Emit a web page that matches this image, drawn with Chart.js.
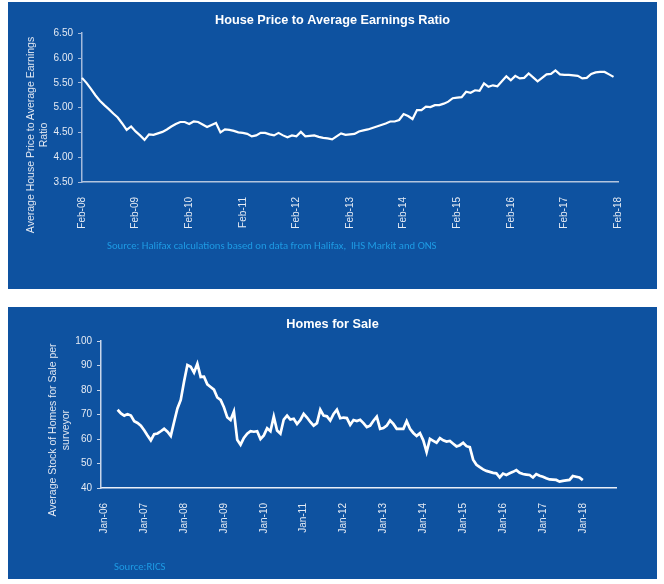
<!DOCTYPE html>
<html>
<head>
<meta charset="utf-8">
<script src="https://cdn.jsdelivr.net/npm/chart.js@4"></script>
<style>
  html, body { margin: 0; padding: 0; background: #fff; }
  body { width: 664px; height: 584px; position: relative; overflow: hidden; font-family: "Liberation Sans", Arial, sans-serif; }
  .panel { position: absolute; left: 8px; width: 649px; background: #0E52A0; }
  #panelTop { top: 2px; height: 287px; }
  #panelBottom { top: 307px; height: 272px; }
  .panel canvas { position: absolute; left: 0; top: 0; }
  .ytitle { position: absolute; color: #dfe6f1; font-size: 10.5px; line-height: 13px; text-align: center; white-space: nowrap; transform: rotate(-90deg); }
  .source { position: absolute; color: #1E9BE4; font-size: 10.7px; white-space: pre; font-family: Carlito, "Open Sans", "Liberation Sans", sans-serif; }
</style>
</head>
<body>
<div class="panel" id="panelTop">
  <canvas id="ratioChart"></canvas>
  <div class="ytitle" style="left:-81px; top:120px; width:220px; height:26px;">Average House Price to Average Earnings<br>Ratio</div>
  <div class="source" style="left:99px; top:237px;">Source: Halifax calculations based on data from Halifax,  IHS Markit and ONS</div>
</div>
<div class="panel" id="panelBottom">
  <canvas id="homesChart"></canvas>
  <div class="ytitle" style="left:-44px; top:110px; width:190px; height:26px;">Average Stock of Homes for Sale per<br>surveyor</div>
  <div class="source" style="left:106px; top:253px;">Source:RICS</div>
</div>
<script>
(function () {
  'use strict';

  /* ── Data ─────────────────────────────────────────────── */
  var MONTHS = ['Jan', 'Feb', 'Mar', 'Apr', 'May', 'Jun', 'Jul', 'Aug', 'Sep', 'Oct', 'Nov', 'Dec'];

  // monthly, Feb-08 .. Jan-18
  var ratioValues = [
    5.60, 5.50, 5.38, 5.25, 5.14, 5.05, 4.97, 4.88, 4.80, 4.68, 4.55, 4.62,
    4.52, 4.44, 4.35, 4.46, 4.45, 4.48, 4.51, 4.56, 4.62, 4.67, 4.71, 4.71,
    4.67, 4.72, 4.71, 4.66, 4.61, 4.65, 4.69, 4.50, 4.56, 4.55, 4.53, 4.50,
    4.49, 4.47, 4.42, 4.44, 4.49, 4.49, 4.46, 4.44, 4.49, 4.44, 4.40, 4.44,
    4.42, 4.51, 4.42, 4.43, 4.44, 4.41, 4.39, 4.38, 4.36, 4.42, 4.48, 4.45,
    4.46, 4.47, 4.52, 4.54, 4.56, 4.59, 4.62, 4.65, 4.68, 4.72, 4.72, 4.75,
    4.87, 4.83, 4.77, 4.95, 4.95, 5.02, 5.01, 5.05, 5.05, 5.08, 5.12, 5.19,
    5.20, 5.21, 5.32, 5.30, 5.35, 5.34, 5.49, 5.42, 5.45, 5.43, 5.53, 5.63,
    5.55, 5.64, 5.59, 5.60, 5.69, 5.61, 5.53, 5.60, 5.67, 5.68, 5.75, 5.67,
    5.66, 5.66, 5.65, 5.64, 5.59, 5.60, 5.68, 5.71, 5.72, 5.72, 5.67, 5.62
  ];
  var ratioTicks = [3.5, 4.0, 4.5, 5.0, 5.5, 6.0, 6.5];

  // monthly, May-06 .. Jan-18
  var homesValues = [
    72.0, 70.5, 69.6, 70.2, 69.6, 67.3, 66.6, 65.5,
    63.6, 61.5, 59.5, 62.0, 62.3, 63.2, 64.2, 63.0, 61.3, 67.0, 72.5, 76.0,
    83.5, 90.3, 89.6, 87.2, 90.8, 85.4, 85.5, 82.4, 81.3, 80.2, 77.0, 76.0,
    73.0, 68.9, 67.8, 71.3, 59.7, 57.7, 60.5, 62.2, 63.2, 63.0, 63.2, 60.0,
    61.5, 64.4, 63.2, 69.2, 63.5, 62.2, 68.0, 69.6, 68.0, 68.3, 66.2, 67.8,
    70.3, 68.8, 67.0, 65.5, 66.5, 72.0, 69.6, 69.3, 67.6, 70.3, 72.0, 68.5,
    68.8, 68.6, 65.8, 67.8, 67.4, 67.9, 66.5, 64.9, 65.5, 67.5, 69.2, 64.2,
    64.5, 65.5, 67.6, 66.2, 64.2, 64.2, 64.2, 67.3, 64.2, 62.5, 61.3, 62.4,
    59.5, 54.7, 60.1, 59.3, 58.5, 60.4, 59.5, 59.0, 59.2, 58.1, 57.0, 57.5,
    58.5, 57.1, 56.7, 51.6, 49.5, 48.5, 47.6, 47.0, 46.6, 46.2, 46.0, 44.3,
    45.9, 45.3, 46.0, 46.6, 47.3, 46.2, 45.7, 45.5, 45.3, 44.3, 45.7, 45.0,
    44.6, 44.0, 43.5, 43.4, 43.3, 42.6, 42.9, 43.1, 43.3, 44.9, 44.6, 44.3,
    43.2
  ];
  var homesTicks = [40, 50, 60, 70, 80, 90, 100];

  /* ── Helpers ──────────────────────────────────────────── */
  function monthLabels(year, month, count) {
    var out = [];
    for (var i = 0; i < count; i++) {
      var m = (month + i) % 12;
      var y = year + Math.floor((month + i) / 12);
      out.push(MONTHS[m] + '-' + String(y % 100).padStart(2, '0'));
    }
    return out;
  }

  var ratioLabels = monthLabels(2008, 1, 121);   // Feb-08 .. Feb-18
  var homesLabels = monthLabels(2005, 11, 156);  // Dec-05 .. Nov-18
  var homesData = [null, null, null, null, null].concat(homesValues);

  var TICK_COLOR = '#e4eaf3';
  var tickFont = { family: "'Liberation Sans', Arial, sans-serif", size: 10 };

  function buildChart(canvas, opts) {
    return new Chart(canvas, {
      type: 'line',
      data: {
        labels: opts.labels,
        datasets: [{
          data: opts.data,
          borderColor: '#ffffff',
          borderWidth: opts.lineWidth,
          pointRadius: 0,
          tension: 0,
          spanGaps: false
        }]
      },
      options: {
        responsive: true,
        maintainAspectRatio: false,
        animation: false,
        layout: { padding: 0 },
        plugins: {
          legend: { display: false },
          tooltip: { enabled: false },
          title: {
            display: true,
            text: opts.title,
            color: '#ffffff',
            font: { family: "'Liberation Sans', Arial, sans-serif", size: 12.7, weight: 'bold', lineHeight: 1.2 },
            padding: opts.titlePad
          }
        },
        scales: {
          x: {
            type: 'category',
            offset: false,
            grid: { display: false },
            border: { display: true, color: opts.xAxisColor, width: 1.5 },
            ticks: {
              autoSkip: false,
              maxRotation: 90,
              minRotation: 90,
              padding: 7,
              color: TICK_COLOR,
              font: tickFont,
              callback: function (val, idx) {
                return idx % 12 === opts.firstYearIdx ? this.getLabelForValue(val) : null;
              }
            },
            afterFit: function (s) { s.height = opts.xHeight; }
          },
          y: {
            min: opts.yTicks[0],
            max: opts.yTicks[opts.yTicks.length - 1],
            grid: { display: true, drawOnChartArea: false, drawTicks: true, tickLength: 4, color: opts.yAxisColor, lineWidth: 1 },
            border: { display: true, color: opts.yAxisColor, width: 1.5 },
            afterBuildTicks: function (s) { s.ticks = opts.yTicks.map(function (v) { return { value: v }; }); },
            ticks: {
              padding: 5,
              color: TICK_COLOR,
              font: tickFont,
              callback: opts.yFormat
            },
            afterFit: function (s) { s.width = opts.yWidth; }
          },
          // empty right-hand box: keeps the plot off the right edge while the title stays centred on the panel
          pad: {
            type: 'linear',
            position: 'right',
            grid: { display: false },
            border: { display: false },
            ticks: { display: false },
            afterFit: function (s) { s.width = opts.padRight; }
          }
        }
      }
    });
  }

  function init() {
    buildChart(document.getElementById('ratioChart'), {
      labels: ratioLabels,
      data: ratioValues,
      firstYearIdx: 0,
      title: 'House Price to Average Earnings Ratio',
      titlePad: { top: 11, bottom: 5 },
      lineWidth: 2.2,
      padRight: 39,
      xHeight: 107,
      yWidth: 74,
      yTicks: ratioTicks,
      xAxisColor: '#b3c5de',
      yAxisColor: '#a3badb',
      yFormat: function (v) { return Number(v).toFixed(2); }
    });

    buildChart(document.getElementById('homesChart'), {
      labels: homesLabels,
      data: homesData,
      firstYearIdx: 1,
      title: 'Homes for Sale',
      titlePad: { top: 10, bottom: 9 },
      lineWidth: 2.7,
      padRight: 41,
      xHeight: 91,
      yWidth: 93,
      yTicks: homesTicks,
      xAxisColor: '#e9eef7',
      yAxisColor: '#c9d6ea',
      yFormat: function (v) { return String(v); }
    });
  }

  if (document.readyState === 'loading') document.addEventListener('DOMContentLoaded', init);
  else init();
})();
</script>
</body>
</html>
